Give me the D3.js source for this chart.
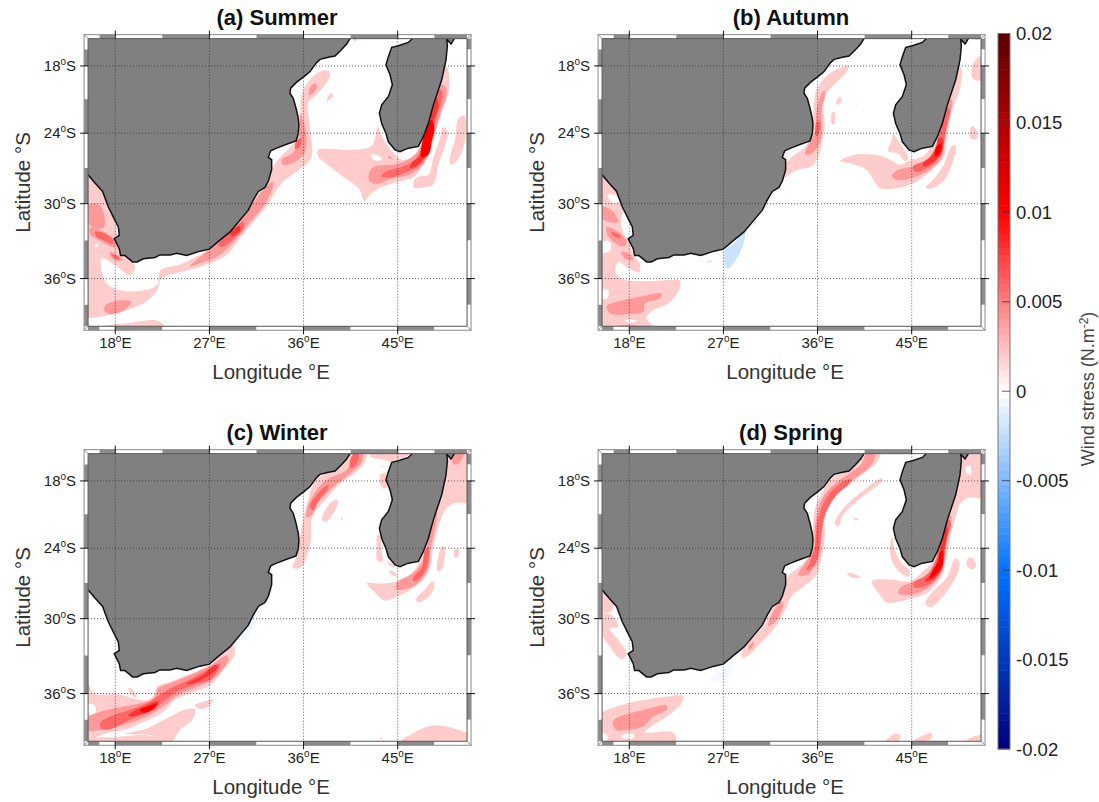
<!DOCTYPE html>
<html>
<head>
<meta charset="utf-8">
<script src="https://cdn.jsdelivr.net/npm/d3@7"></script>
<style>
body { margin: 0; background: #fff; }
text { font-family: "Liberation Sans", Arial, sans-serif; }
</style>
</head>
<body>
<div id="graph"></div>
<script>
// coast lines, [lon E, lat S]
var africaCoast = [[40.5,15.4],[40.12,16.0],[39.64,16.5],[39.01,17.09],[38.37,17.2],[37.57,17.4],[37.19,17.76],[36.62,18.51],[36.04,18.96],[35.34,19.47],[34.77,20.01],[34.7,20.46],[35.02,20.91],[35.28,21.8],[35.5,22.69],[35.56,23.29],[35.5,24.03],[35.28,24.68],[34.38,24.96],[33.43,25.3],[32.86,25.53],[32.63,26.09],[32.95,26.29],[32.95,27.14],[32.63,28.13],[32.31,28.64],[31.68,28.98],[31.2,29.69],[30.72,30.53],[29.92,31.35],[28.97,32.31],[28.0,32.97],[26.99,33.69],[26.1,33.85],[24.82,34.2],[23.87,34.02],[23.23,34.15],[22.27,34.15],[21.79,34.35],[20.68,34.45],[20.1,34.7],[19.66,34.7],[18.92,34.2],[18.51,34.2],[18.38,33.65],[17.9,32.85],[18.38,32.58],[18.29,31.9],[17.81,31.08],[17.33,30.25],[16.79,28.98],[16.06,28.27],[15.39,27.57],[15.0,27.4]];
var africaClose = [[15.0,15.0],[40.5,15.0]];
var madagascarCoast = [[46.5,15.4],[46.02,15.85],[45.06,16.15],[44.43,16.3],[44.11,17.15],[43.88,17.9],[44.27,18.8],[44.49,19.7],[44.11,20.75],[43.47,21.5],[43.25,22.25],[43.47,23.15],[43.88,24.03],[44.11,24.75],[44.75,25.45],[45.22,25.6],[46.02,25.3],[46.98,25.15],[47.45,24.3],[47.93,23.15],[48.41,21.5],[49.21,19.25],[49.62,17.45],[49.75,16.15],[49.69,15.55],[50.1,16.0],[50.48,15.4]];
var madagascarClose = [[50.48,15.0],[46.5,15.0]];

// wind stress patches per season, [contour level, ring], painted in this order
var summerPatches = [
  [0.002, [[14.9,27.3],[16.9,28.4],[18.8,34.15],[19.9,34.97],[19.4,35.75],[18.0,34.97],[16.7,34.43],[16.8,35.75],[17.3,36.5],[18.8,36.95],[20.7,36.9],[22.0,36.5],[22.3,35.35],[24.2,34.9],[25.5,34.4],[27.05,33.7],[28.3,32.8],[30.6,30.4],[31.8,29],[32.8,27.3],[33.7,26.15],[35.3,24.6],[35.7,23.3],[35.7,22.1],[35.8,20.6],[36.6,19.25],[37.6,18.5],[38.4,18.45],[38.5,18.95],[37.4,20.45],[36.45,21.35],[36.6,23.3],[36.7,26.15],[35.35,27.3],[34.05,28.15],[33.25,29.1],[32.45,30.25],[31.2,31.5],[29.9,32.85],[28.65,34.15],[27.4,34.7],[25.45,35.25],[22.45,36],[22,36.9],[21,37.75],[18.75,38.5],[16.55,38.9],[15.4,39],[14.9,39]]],
  [0.002, [[15,39.7],[16.5,39.6],[18,39.45],[19.4,39.35],[22.1,39.2],[22.7,39.7],[15,39.9]]],
  [0.002, [[38.35,20.75],[38.75,20.45],[38.8,20.75],[38.25,21.15]]],
  [0.002, [[40.8,15.4],[41.1,15.4],[41,15.7],[40.8,15.7]]],
  [0.002, [[37.4,25.45],[38.5,25.35],[40.1,25.45],[42.5,25.1],[43.1,23.45],[43.45,24.2],[44.1,25.15],[44.6,25.7],[45.4,26.3],[46.5,26],[47.05,25.3],[48.4,21.2],[49.7,18.05],[49.95,19.4],[49.85,20.45],[48.9,23],[48.1,25.3],[47.45,26.55],[47,27.3],[46.5,27.8],[44.9,28.2],[43.3,28.7],[42.35,29.25],[41.8,29.8],[41.55,29.25],[41.25,28.7],[39.5,27.55],[38.05,26.55],[37.4,26]]],
  [0.002, [[49.35,23.45],[49.8,23.9],[49.5,25.15],[48.9,26.7],[48.4,28.4],[47.45,28.65],[46.55,28.65],[46.6,28],[47.15,27.7],[47.95,27.55],[48.4,26.15],[49.05,24.45]]],
  [0.002, [[50.8,22.7],[51.35,22.45],[51.45,24.6],[50.65,26.4],[50.05,26.7],[50.05,25.85],[50.5,24.45]]],
  [0, [[42.5,25.85],[43.3,26],[43.45,26.3],[42.65,26.3]]],
  [0, [[16.1,33.3],[16.4,33.3],[16.3,33.5],[16.05,33.5]]],
  [0, [[31.05,30.35],[32,29.25],[31.7,30],[31.2,30.45]]],
  [0.004, [[15.4,30.1],[16.5,30.1],[17,31.2],[16.85,32],[15.9,32],[15.4,31.5]]],
  [0.004, [[15.6,32],[16.5,32.15],[17.8,32.85],[18,33.5],[17.65,33.5],[16.2,32.85],[15.6,32.55]]],
  [0.004, [[17.5,33.9],[18.45,34.3],[18.75,34.55],[18,34.55],[17.55,34.3]]],
  [0.004, [[17,38.1],[18.15,37.7],[19.55,37.75],[18.75,38.45],[17.65,38.7],[17,38.5]]],
  [0.004, [[25.15,35.05],[26.9,33.75],[28.6,32.55],[30.55,30.65],[32.3,28.7],[33.05,28.15],[33.05,28.7],[32.15,30.25],[30.9,31.5],[29.6,32.85],[28,34.15],[26.4,34.7]]],
  [0.004, [[35.65,22.2],[36,23],[36.3,24.45],[36,25.85],[35,26.55],[34.05,26.75],[33.9,26.3],[35,25.7],[35.5,24.75],[35.65,23.3]]],
  [0.004, [[36.6,20],[37.1,19.55],[37.3,19.85],[36.95,20.45],[36.55,20.65]]],
  [0.004, [[44.1,25.95],[44.45,26.1],[44.35,26.2],[44.1,26.15]]],
  [0.004, [[49.2,19.7],[49.7,20.15],[49.05,22.4],[48.4,24.45],[48.05,25.7],[47.3,26.85],[46.2,27.55],[44.6,27.85],[43,28.35],[42.3,28.1],[42.3,27.3],[42.85,26.85],[44.75,26.7],[46,26.3],[46.8,25.7],[47.3,25],[47.8,23.3],[48.4,21.2]]],
  [0.006, [[16.05,32.3],[16.85,32.4],[17.8,32.97],[17.75,33.25],[16.85,32.97],[16.2,32.7]]],
  [0.006, [[17.65,34.15],[18.3,34.3],[18.4,34.55],[18,34.45]]],
  [0.006, [[27.85,33.35],[29.3,32.05],[30.25,31.5],[30.25,32.05],[29.3,32.85],[28.3,33.5]]],
  [0.006, [[35.35,24.6],[35.8,24.45],[35.65,25.15],[35.2,25.35]]],
  [0.006, [[49.05,20.15],[49.3,20.45],[48.75,22.55],[48.1,24.45],[47.8,25.85],[47.15,26.7],[45.7,27.4],[44.25,27.8],[43.45,27.7],[43.9,27.3],[45.55,26.85],[46.65,26.3],[47.2,25.45],[47.6,23.6],[48.4,21.5]]],
  [0.008, [[28.95,32.45],[29.85,31.85],[30,32.1],[29.3,32.65]]],
  [0.008, [[48.55,20.75],[48.9,21.5],[48.4,23],[48.05,24.6],[47.8,25.7],[47,26.7],[46.2,27],[46.35,26.55],[47.05,26],[47.4,25],[47.8,23.3]]],
  [0.01, [[48.25,22.85],[48.5,23.45],[48.25,24.75],[47.95,25.85],[47.3,26.1],[47.3,25],[47.8,23.6]]]
];

var autumnPatches = [
  [0.002, [[15,27.3],[16.6,28.55],[18.4,34.15],[19,34.8],[18.95,35.5],[17.75,35.1],[16.95,34.7],[16.7,35.6],[17.4,36.05],[19.65,36.2],[21.9,36.1],[22.8,36.15],[22.85,36.75],[21.75,37.9],[20.3,38.4],[19.65,39],[20.45,39.8],[15,39.9]]],
  [0, [[15.9,29.3],[16.6,29.25],[17.1,29.8],[16.45,29.95]]],
  [0, [[17.4,30.8],[18.05,31.75],[18.2,32.7],[17.75,32.85],[17.25,31.75]]],
  [0, [[15.45,33.1],[16.15,33.1],[16.2,33.75],[15.45,34]]],
  [0, [[15.4,36.9],[16,36.9],[15.85,37.55],[15.4,37.55]]],
  [0, [[17.6,39.15],[18.7,39.15],[18.4,39.3],[17.75,39.3]]],
  [-0.002, [[27.15,33.75],[27.95,33.25],[29.05,32.3],[28.9,33.35],[27.95,34.85],[27.45,35.25],[27.15,35]]],
  [-0.002, [[29.85,31.75],[30.15,31.35],[30.1,31.6]]],
  [0.002, [[25.4,34.7],[25.85,34.55],[25.8,34.7]]],
  [0.002, [[32.9,27.8],[32.8,26.85],[33.5,26.1],[34.95,25.05],[35.3,24.2],[35.55,23],[35.65,21.5],[35.9,20.15],[36.7,19.05],[37.85,18.3],[38.95,18],[38.8,18.5],[37.9,19.4],[36.8,20.6],[36.55,21.8],[36.7,23.3],[36.45,24.6],[36.25,25.65],[35.45,26.85],[34.15,27.15],[33.35,27.5]]],
  [0.002, [[37.75,21.3],[38.15,20.75],[38.3,21],[38,21.5]]],
  [0.002, [[37.35,22.25],[37.6,22.1],[37.65,23.15],[37.4,23.25]]],
  [0.002, [[39.6,21.4],[39.75,21.4],[39.7,21.55]]],
  [0.002, [[43.25,24.05],[43.75,24.75],[44.2,25.3],[44.7,26.15],[44.35,26.4],[43.75,25.8],[42.75,25.55],[43.1,24.6]]],
  [0.002, [[38.15,26.4],[39.4,25.9],[41.35,25.85],[42.6,26.15],[43.9,26.7],[45,26.3],[46.1,26],[46.75,25.3],[47.55,23.6],[48.5,21.05],[49.45,18.2],[49.7,18.05],[49.7,19.7],[48.85,22.1],[48.35,24.45],[48.1,26],[46.75,27.3],[45.5,28.15],[43.9,28.65],[41.95,28.7],[41.35,28],[40.7,27.15],[39.4,26.65]]],
  [0.002, [[48.8,25.15],[49.2,25.05],[49.15,25.85],[48,28.15],[46.75,28.75],[46.35,28.65],[47.05,28],[48,26.85]]],
  [0.002, [[50.6,23.6],[50.9,23.4],[51.3,24.05],[51.2,24.5],[50.65,24.45]]],
  [0.002, [[50.75,18.2],[51.4,17.15],[51.8,17.15],[51.8,19.25],[50.85,19.15]]],
  [0.002, [[50.9,15.55],[51.6,15.4],[51.4,15.6]]],
  [0.004, [[15.4,30.25],[16.3,30.55],[16.95,31.5],[16.15,31.5],[15.4,31.2]]],
  [0.004, [[15.85,31.9],[16.95,32.3],[17.75,33.1],[17.4,33.5],[16.15,32.85],[15.85,32.4]]],
  [0.004, [[17.25,33.9],[18.2,34.15],[18.4,34.55],[17.6,34.45]]],
  [0.004, [[15.85,38.1],[17.25,37.7],[19,37.4],[21.1,37.15],[20.95,37.5],[19.5,37.9],[19.35,38.5],[17.75,38.7],[16.15,38.65]]],
  [0.004, [[16.8,39.6],[18.4,39.5],[19.35,39.75]]],
  [0.004, [[35.9,22.1],[36.25,20.75],[36.7,20.2],[36.7,20.75],[36.4,21.8],[36.4,23.6],[36.25,24.75],[35.45,25.75],[34.8,25.85],[35.1,25.05],[35.75,23.9]]],
  [0.004, [[48.35,21.05],[48.85,21.05],[48.5,23],[48.1,24.75],[47.85,26.15],[46.75,27.15],[44.85,27.9],[43.55,28],[43.1,27.65],[43.75,27.15],[45.15,26.85],[46.45,26.3],[47.25,25.3],[47.55,23.9]]],
  [0.006, [[16.3,32.3],[17.1,32.6],[17.15,32.85],[16.45,32.6]]],
  [0.006, [[35.9,23],[36.25,23],[36.15,23.9],[35.85,24.3]]],
  [0.006, [[48.4,21.8],[48.65,21.95],[48.3,23.6],[48.05,25.05],[47.7,26],[46.75,26.85],[45.3,27.3],[45.15,26.85],[46.45,26.3],[47.25,25.3],[47.7,23.9]]],
  [0.008, [[47.55,24.45],[47.95,24.45],[47.85,25.7],[47.05,26.5],[46.1,26.85],[46.1,26.55],[46.9,26],[47.4,25.15]]],
  [0.01, [[47.45,25.05],[47.8,24.9],[47.75,25.6],[47.25,26],[47.25,25.45]]]
];

var winterPatches = [
  [-0.0006, [[32.95,27.3],[33.1,27.3],[32.5,28.7],[31.55,30.25],[30.4,31.6],[29.75,31.6],[30.9,30.4],[32.3,28.7]]],
  [0.002, [[14.95,35.2],[15.4,35.2],[15.9,36],[18.15,36.05],[21,36.5],[21.8,36],[21.95,35.5],[23.55,35],[26.9,33.8],[28.3,32.85],[29.3,32.15],[29.45,32.85],[28.35,34.15],[27.05,35.35],[25.45,35.9],[23.7,36.5],[22.6,37.4],[20.5,38.25],[19.1,38.7],[17.15,39],[15.4,39.45],[14.95,39.45]]],
  [0, [[15,36.85],[16.05,36.9],[16.05,37.5],[15,37.55]]],
  [0.002, [[18.95,39.05],[21,38.65],[22.9,37.9],[24.8,37.2],[25.6,37.2],[25.45,37.9],[24.2,38.75],[23.3,39.7],[21.95,39.7],[21.8,39.25],[20.05,39.1]]],
  [0.002, [[14.95,39.45],[17.8,39.3],[21,39.15],[22,39.35],[22.1,39.9],[14.95,39.9]]],
  [0.002, [[25.6,36.9],[26.75,36.55],[27.35,36.45],[26.9,37],[26.1,37.2]]],
  [0.002, [[19.25,35.6],[19.55,35.6],[20.05,36.25],[19.7,36.25]]],
  [0.002, [[45.4,39.55],[46.5,39],[48.1,38.45],[49.35,38.45],[51.6,38.95],[52.1,39],[52.1,39.9]]],
  [0.002, [[43.25,39.35],[43.5,39.3],[43.45,39.45]]],
  [0.002, [[40.1,15.3],[42,15.3],[41.85,16.3],[41.1,17.15],[39.5,18.2],[38.35,19.45],[36.85,21.2],[36.7,23.3],[36.3,24.75],[35.7,25.7],[34.95,25.7],[35.2,25.05],[35.55,23.9],[35.65,23],[36,21.35],[36.3,20.15],[37.1,18.05],[38.85,16.85]]],
  [0.002, [[37.75,21.5],[38.55,20],[39.25,19.7],[39.2,20.3],[38.15,21.65]]],
  [0.002, [[42.35,15.3],[46.5,15.3],[45.2,16],[44.25,16.2],[43.45,16],[42.5,15.85]]],
  [0.002, [[43.3,17.45],[43.8,17.3],[43.9,18.65],[43.45,18.5]]],
  [0.002, [[43.45,16.6],[43.6,16.6],[43.55,16.85]]],
  [0.002, [[43.05,22.85],[43.3,22.85],[43.45,24.2],[43.55,25.15],[43.05,25.1],[43,23.9]]],
  [0.002, [[44.1,25.95],[44.6,26],[45,26.45],[44.45,26.3]]],
  [0.002, [[44.1,25.15],[44.75,25.55],[44.6,25.65],[44.1,25.4]]],
  [0.002, [[42.05,27],[43.3,27.05],[44.9,26.85],[46.5,26],[47.3,24.75],[48.1,22.7],[49.05,19.4],[49.55,17.3],[49.85,15.5],[52.1,15.3],[52.1,19.85],[50.5,20],[49.55,20.6],[48.9,22.1],[48.4,23.9],[48.1,25.6],[47.45,26.7],[46,27.7],[44.9,28.15],[43.8,28.5],[42.85,27.85]]],
  [0.002, [[48.75,25.7],[49.2,23.85],[49.5,23.9],[49.45,25.05],[49.2,25.85],[48.8,26]]],
  [0.002, [[50.4,24.2],[50.8,24.05],[50.8,24.75],[50.5,24.8]]],
  [0.002, [[46.75,28.4],[47.6,27.55],[48.35,26.85],[48.5,27.4],[47.95,28.15],[47,28.65]]],
  [0.004, [[15,38.05],[16.55,37.4],[17.8,37.15],[20.35,36.75],[21.65,36.4],[22.1,35.6],[23.25,35.2],[26.9,33.9],[28.65,33],[28.8,33.35],[27.4,34.85],[25.45,35.6],[24,36.1],[22.75,36.9],[21,37.75],[18.75,38.4],[16.85,38.75],[15,38.75]]],
  [0.004, [[36.3,20.6],[36.95,19.25],[38.2,17.9],[40.1,17],[40.9,15.5],[41.7,15.5],[41.55,16.3],[40.3,17.45],[38.7,18.65],[37.25,20.15],[36.8,21.05],[36.3,21.25]]],
  [0.004, [[39.6,21.4],[39.75,21.35],[39.7,21.5]]],
  [0.004, [[50.4,15.4],[51.3,15.4],[50.8,16.45],[50.3,16.45]]],
  [0.004, [[48.4,21.5],[48.75,20.75],[48.55,22.4],[48.1,24.2],[47.95,25.7],[47.15,26.85],[46.2,27.4],[44.9,27.55],[44.9,27],[46.5,26.15],[47.45,25],[47.95,23.15]]],
  [0.006, [[16.55,38.25],[17.8,37.65],[19.4,37.25],[21.3,36.6],[22,36.25],[23.25,35.6],[25.15,34.9],[27.05,34],[28,33.65],[27.2,34.85],[25.45,35.35],[23.85,35.85],[22.6,36.6],[21.15,37.4],[19.4,38],[17.5,38.7],[16.7,38.65]]],
  [0.006, [[40.45,16.15],[40.85,15.4],[41.25,15.4],[41.1,16.45],[40.5,16.85]]],
  [0.006, [[36.6,20.3],[37.55,18.95],[38.35,18.35],[38.35,18.65],[37.4,19.85],[36.95,20.65]]],
  [0.006, [[47.6,24.2],[47.95,23.9],[47.85,25.45],[47.15,26.55],[46.5,26.85],[46.5,26.5],[47.3,25.7]]],
  [0.008, [[19.25,37.65],[20.7,37],[22.1,36.6],[21.8,37.15],[20.7,37.55],[19.4,37.75]]],
  [0.008, [[24.8,35.25],[26.4,34.55],[27.55,33.75],[27.85,33.9],[26.9,34.6],[25.45,35.2]]],
  [0.01, [[20.35,37.25],[21.45,36.9],[21.95,36.75],[21.7,37.1],[20.7,37.45]]]
];

var springPatches = [
  [-0.0004, [[25.7,34.9],[26.5,34.3],[27.8,33.65],[27.8,34.4],[27.3,34.95],[26.2,35.1]]],
  [0.002, [[15,27.55],[16.45,28.55],[16.3,29.4],[15.4,29.5],[15,29.5]]],
  [0.002, [[15,29.7],[16.3,29.7],[16.95,30.7],[16.15,30.8],[16.95,31.75],[17.75,32.85],[17.25,33.3],[16.15,32.3],[15.5,31.5],[15,30.95]]],
  [0.002, [[15,37.75],[16.8,37],[19.35,36.5],[21.9,36.2],[23.15,36.2],[23,36.75],[21.75,37.65],[20.3,38.4],[19.5,38.95],[22.2,38.95],[22.35,39.9],[15,39.9]]],
  [0, [[17.25,39.2],[18.4,39.05],[18.4,39.35],[17.4,39.35]]],
  [0, [[15.4,39],[15.9,39.15],[15.85,39.6],[15.4,39.6]]],
  [0.002, [[40.55,15.3],[42,15.3],[41.8,16.15],[41,16.85],[39.4,18.05],[37.65,19.45],[36.7,21.2],[36.7,23],[36.4,24.75],[35.9,26.3],[34.65,27.3],[33.5,28.15],[33.05,29],[31.95,30.7],[30.5,32.05],[29.4,33],[28.85,33.2],[28.75,32.85],[29.55,31.75],[30.8,30.65],[31.6,29.25],[32.4,28.4],[32.75,27.3],[33.2,26.4],[34.65,25.3],[35.3,24.45],[35.55,23.3],[35.6,21.5],[35.9,20],[36.25,19.4],[37.2,17.9],[38.8,17],[40.05,16.15]]],
  [0.002, [[37.65,21.8],[38,21.05],[39.1,19.85],[42.15,17.75],[42.15,18],[39.75,19.85],[38.45,21.05],[38,22.1]]],
  [0.002, [[39.4,21.35],[39.9,21.45],[39.75,21.55]]],
  [0.002, [[38.8,26.2],[39.4,26.2],[40.2,26.5],[39.4,26.55]]],
  [0.002, [[43.1,23],[43.4,24.2],[44.05,25.3],[44.85,26],[44.7,26.45],[43.75,26],[42.95,24.6]]],
  [0.002, [[41.2,26.85],[42.95,26.7],[44.85,26.85],[46.1,26],[47.25,24.9],[48.05,22.4],[49,19.4],[49.55,18.2],[49.7,18.05],[49.7,19.4],[48.85,22.4],[48.35,24.6],[47.85,26.4],[46.45,27.85],[45,28.3],[42.6,28.65],[41.95,28]]],
  [0.002, [[49.15,24.9],[49.55,25.15],[49.45,26],[48,28.15],[46.75,29.05],[46.3,28.7],[47.05,27.7],[48.35,26.55]]],
  [0.002, [[50.4,24.9],[50.75,24.8],[51.15,25.55],[50.75,25.85],[50.25,25.45]]],
  [0.002, [[49.8,15.9],[50.25,15.3],[51.9,15.3],[51.9,19.4],[50.25,19.55],[49.45,20.15],[49.3,18.05]]],
  [0, [[50.25,16.65],[50.6,16.65],[50.65,17.45],[50.2,17.15]]],
  [0.002, [[42.45,39.7],[43.4,39.05],[43.95,39.15],[43.7,39.6]]],
  [0.002, [[45,39.7],[46.1,39.15],[46.9,39],[46.9,39.35],[45.8,39.7]]],
  [0.002, [[50.1,39.7],[50.9,39.25],[51.9,39.2],[51.9,39.9]]],
  [0.004, [[16.45,38.1],[17.4,37.65],[19.35,37.25],[21.55,36.9],[21.65,37.2],[20.3,37.75],[19.35,38.5],[17.75,38.75],[16.7,38.75]]],
  [0.004, [[40.7,15.4],[41.5,15.4],[41.2,16.45],[40.05,17.45],[39.1,18.05],[37.65,19.25],[36.85,20.75],[36.4,22.7],[36.25,24.45],[35.6,25.7],[35.1,26.3],[34.15,26.3],[34.8,25.3],[35.6,24.15],[35.75,22.1],[36.25,20],[37.2,18.65],[38.8,17.45],[40.2,16.45]]],
  [0.004, [[32.55,28.55],[32.7,28.85],[31.95,30.25],[31.3,30.6],[31.6,29.7]]],
  [0.004, [[29.4,32.3],[29.9,31.9],[29.85,32.25],[29.5,32.5]]],
  [0.004, [[48.5,21.05],[48.8,21.2],[48.4,23],[48.2,24.75],[47.85,26.15],[46.75,27.3],[45,28],[43.75,27.9],[43.9,27.4],[45.3,26.85],[46.6,26.15],[47.25,25.05],[47.7,23.6]]],
  [0.006, [[36.25,20.75],[37.05,19.25],[38.45,18.05],[39.25,17.85],[38.95,18.35],[37.85,19.25],[36.7,21.05],[36.35,22.7],[36.1,24.45],[35.6,25.6],[35.3,25.3],[35.75,23.9],[35.9,22.25]]],
  [0.006, [[34.95,25.75],[35.6,25.2],[35.65,25.4],[35.1,25.95]]],
  [0.006, [[48.5,21.5],[48.75,21.8],[48.35,23.3],[48.05,25.05],[47.7,26.15],[46.6,27.15],[45.3,27.4],[45.15,27],[46.45,26.3],[47.25,25.15],[47.7,23.6]]],
  [0.008, [[48.3,22.1],[48.45,22.25],[48.05,24.45],[47.95,25.6],[47.05,26.7],[46.25,26.85],[47.05,26],[47.55,24.75]]],
  [0.01, [[47.65,24.45],[47.95,24.2],[47.95,25.45],[47.25,26.3],[46.7,26.65],[47.05,25.85],[47.55,25.15]]]
];

var panelTitles = ["(a) Summer", "(b) Autumn", "(c) Winter", "(d) Spring"];
var panelPatches = [summerPatches, autumnPatches, winterPatches, springPatches];

var lonTicks = [18, 27, 36, 45];
var latTicks = [18, 24, 30, 36];
var lonEdge = [15.4, 51.63];
var latEdge = [15.5, 39.6];
var lonBreaks = [15.4, 16.5, 18, 22.5, 27, 31.5, 36, 40.5, 45, 48.5, 51.63];
var latBreaks = [15.5, 16.5, 18, 21, 24, 27, 30, 33, 36, 38, 39.6];
var barTicks = [-0.02, -0.015, -0.01, -0.005, 0, 0.005, 0.01, 0.015, 0.02];
var barTickNames = ["-0.02", "-0.015", "-0.01", "-0.005", "0", "0.005", "0.01", "0.015", "0.02"];

var width = 1099;
var height = 802;

var svg = d3.select("#graph").append("svg")
    .attr("width", width)
    .attr("height", height)
    .style("display", "block");

var color = d3.scaleLinear()
    .domain([-0.02, -0.01, 0, 0.01, 0.02])
    .range(["#00007a", "#0073ff", "#ffffff", "#ff0000", "#5c0000"]);

// same mercator for all panels, the groups only shift it
var projection = d3.geoMercator().scale(599.3).translate([-73, -125.5]);
function xy(p) { return projection([p[0], -p[1]]); }
function px(lon) { return xy([lon, 20])[0]; }
function py(lat) { return xy([20, lat])[1]; }

var smooth = d3.line().curve(d3.curveCatmullRomClosed.alpha(0.5));
var straight = d3.line();

var panelShift = [[0, 0], [514, 0], [0, 415], [514, 415]];
var titleCentre = [277, 791, 277, 791];

var left = px(lonEdge[0]), right = px(lonEdge[1]), top_ = py(latEdge[0]), bottom = py(latEdge[1]);
var band = 4;

svg.append("clipPath").attr("id", "mapclip").append("rect")
    .attr("x", left).attr("y", top_)
    .attr("width", right - left).attr("height", bottom - top_);

function label(sel, x, y, head, tail, anchor) {
    var t = sel.append("text")
        .attr("x", x).attr("y", y)
        .attr("text-anchor", anchor)
        .attr("font-size", 15)
        .attr("fill", "#222");
    t.append("tspan").text(head);
    t.append("tspan").attr("font-size", 10).attr("dy", -6).text("o");
    t.append("tspan").attr("dy", 6).text(tail);
}

panelShift.forEach(function (shift, i) {
    var g = svg.append("g").attr("transform", "translate(" + shift[0] + "," + shift[1] + ")");
    var map = g.append("g").attr("clip-path", "url(#mapclip)");

    map.selectAll("path.patch")
        .data(panelPatches[i])
        .enter().append("path")
        .attr("class", "patch")
        .attr("d", function (d) { return smooth(d[1].map(xy)); })
        .attr("fill", function (d) { return color(d[0]); });

    map.append("path")
        .attr("d", straight(africaCoast.concat(africaClose).map(xy)) + "Z")
        .attr("fill", "#808080");
    map.append("path")
        .attr("d", straight(madagascarCoast.concat(madagascarClose).map(xy)) + "Z")
        .attr("fill", "#808080");
    [africaCoast, madagascarCoast].forEach(function (coast) {
        map.append("path")
            .attr("d", straight(coast.map(xy)))
            .attr("fill", "none")
            .attr("stroke", "#111")
            .attr("stroke-width", 1.5);
    });

    // dotted graticule
    lonTicks.forEach(function (lon) {
        g.append("line")
            .attr("x1", px(lon)).attr("x2", px(lon))
            .attr("y1", top_).attr("y2", bottom)
            .attr("stroke", "#333").attr("stroke-width", 0.8).attr("stroke-dasharray", "1 2");
    });
    latTicks.forEach(function (lat) {
        g.append("line")
            .attr("x1", left).attr("x2", right)
            .attr("y1", py(lat)).attr("y2", py(lat))
            .attr("stroke", "#333").attr("stroke-width", 0.8).attr("stroke-dasharray", "1 2");
    });

    // fancy frame, opposite sides are in opposite phase
    d3.pairs(lonBreaks).forEach(function (seg, k) {
        var a = px(seg[0]), b = px(seg[1]);
        g.append("rect").attr("x", a).attr("y", top_ - band).attr("width", b - a).attr("height", band)
            .attr("fill", k % 2 ? "#8c8c8c" : "#fff");
        g.append("rect").attr("x", a).attr("y", bottom).attr("width", b - a).attr("height", band)
            .attr("fill", k % 2 ? "#fff" : "#8c8c8c");
    });
    d3.pairs(latBreaks).forEach(function (seg, k) {
        var a = py(seg[0]), b = py(seg[1]);
        g.append("rect").attr("x", left - band).attr("y", a).attr("width", band).attr("height", b - a)
            .attr("fill", k % 2 ? "#8c8c8c" : "#fff");
        g.append("rect").attr("x", right).attr("y", a).attr("width", band).attr("height", b - a)
            .attr("fill", k % 2 ? "#fff" : "#8c8c8c");
    });
    g.append("rect").attr("x", left).attr("y", top_).attr("width", right - left).attr("height", bottom - top_)
        .attr("fill", "none").attr("stroke", "#555").attr("stroke-width", 1);
    g.append("rect").attr("x", left - band).attr("y", top_ - band)
        .attr("width", right - left + 2 * band).attr("height", bottom - top_ + 2 * band)
        .attr("fill", "none").attr("stroke", "#8a8a8a").attr("stroke-width", 1);
    [[left, top_, -1, -1], [right, top_, 1, -1], [left, bottom, -1, 1], [right, bottom, 1, 1]].forEach(function (c) {
        g.append("line")
            .attr("x1", c[0]).attr("y1", c[1])
            .attr("x2", c[0] + c[2] * band).attr("y2", c[1] + c[3] * band)
            .attr("stroke", "#8a8a8a");
    });

    // ticks and labels
    lonTicks.forEach(function (lon) {
        g.append("line").attr("x1", px(lon)).attr("x2", px(lon)).attr("y1", top_ - 8).attr("y2", top_).attr("stroke", "#111");
        g.append("line").attr("x1", px(lon)).attr("x2", px(lon)).attr("y1", bottom).attr("y2", bottom + 8).attr("stroke", "#111");
        label(g, px(lon), bottom + 22, lon, "E", "middle");
    });
    latTicks.forEach(function (lat) {
        g.append("line").attr("x1", left - 8).attr("x2", left).attr("y1", py(lat)).attr("y2", py(lat)).attr("stroke", "#111");
        g.append("line").attr("x1", right).attr("x2", right + 8).attr("y1", py(lat)).attr("y2", py(lat)).attr("stroke", "#111");
        label(g, left - 12, py(lat) + 5, lat, "S", "end");
    });

    g.append("text")
        .attr("x", (left + right) / 2 - 6.5).attr("y", bottom + 53)
        .attr("text-anchor", "middle").attr("font-size", 20.5).attr("fill", "#333")
        .text("Longitude \u00b0E");
    g.append("text")
        .attr("transform", "translate(30," + ((top_ + bottom) / 2) + ") rotate(-90)")
        .attr("text-anchor", "middle").attr("font-size", 20.5).attr("fill", "#333")
        .text("Latitude \u00b0S");

    svg.append("text")
        .attr("x", titleCentre[i]).attr("y", shift[1] + 25)
        .attr("text-anchor", "middle").attr("font-size", 22).attr("font-weight", "bold").attr("fill", "#111")
        .text(panelTitles[i]);
});

// colour bar
var barX = 998, barW = 12;
var barY = d3.scaleLinear().domain([-0.02, 0.02]).range([749, 33.5]);
var barSteps = d3.range(-0.02, 0.02, 0.04 / 100);

svg.selectAll("rect.step")
    .data(barSteps)
    .enter().append("rect")
    .attr("class", "step")
    .attr("x", barX).attr("width", barW)
    .attr("y", function (d) { return barY(d + 0.04 / 100); })
    .attr("height", barY(0) - barY(0.04 / 100) + 0.5)
    .attr("fill", function (d) { return color(d + 0.02 / 100); });

svg.append("rect")
    .attr("x", barX).attr("y", barY(0.02)).attr("width", barW).attr("height", barY(-0.02) - barY(0.02))
    .attr("fill", "none").attr("stroke", "#777");

barTicks.forEach(function (v, i) {
    if (Math.abs(v) < 0.02) {
        svg.append("line")
            .attr("x1", barX + 4).attr("x2", barX + barW)
            .attr("y1", barY(v)).attr("y2", barY(v))
            .attr("stroke", "#333").attr("stroke-opacity", 0.75);
    }
    svg.append("text")
        .attr("x", barX + barW + 6).attr("y", barY(v) + 6.5)
        .attr("font-size", 18.5).attr("fill", "#222")
        .text(barTickNames[i]);
});

var barTitle = svg.append("text")
    .attr("transform", "translate(1094,389) rotate(-90)")
    .attr("text-anchor", "middle").attr("font-size", 18).attr("fill", "#444");
barTitle.append("tspan").text("Wind stress (N.m");
barTitle.append("tspan").attr("font-size", 12).attr("dy", -6).text("-2");
barTitle.append("tspan").attr("dy", 6).text(")");
</script>
</body>
</html>
